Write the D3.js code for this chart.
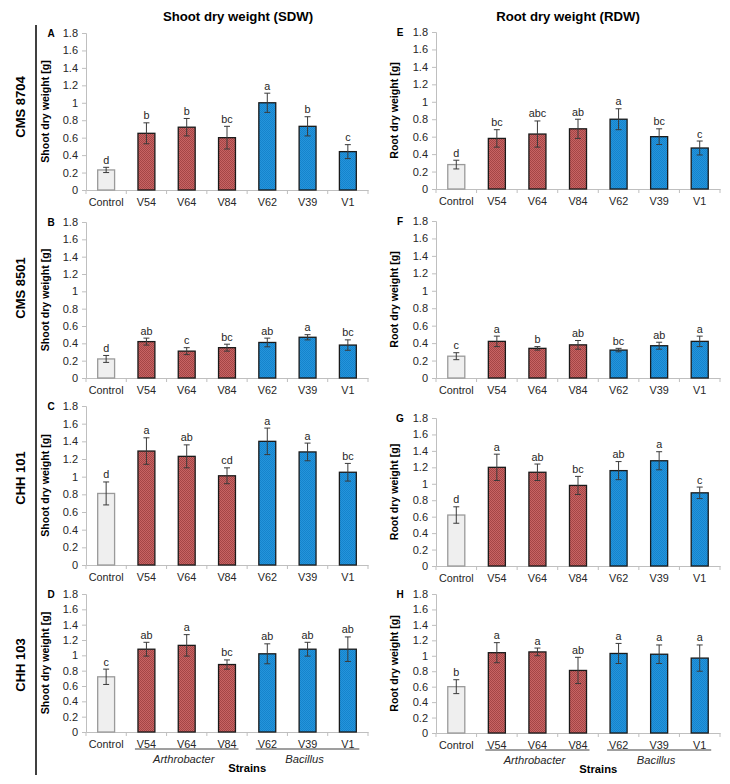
<!DOCTYPE html>
<html>
<head>
<meta charset="utf-8">
<script src="https://cdn.jsdelivr.net/npm/d3@7"></script>
<style>
  html, body { margin: 0; padding: 0; background: #fff; }
  svg { display: block; font-family: Arial, "Liberation Sans", sans-serif; }
</style>
</head>
<body>
<svg id="chart" width="730" height="784"></svg>
<script>
// ---------------- DATA ----------------
const categories = ["Control", "V54", "V64", "V84", "V62", "V39", "V1"];
const genotypes = ["CMS 8704", "CMS 8501", "CHH 101", "CHH 103"];
const panelLettersSDW = ["A", "B", "C", "D"];
const panelLettersRDW = ["E", "F", "G", "H"];
const yTickValues = [0, 0.2, 0.4, 0.6, 0.8, 1, 1.2, 1.4, 1.6, 1.8];
const yTickLabels = ["0", "0.2", "0.4", "0.6", "0.8", "1", "1.2", "1.4", "1.6", "1.8"];
const groupNames = ["Arthrobacter", "Bacillus"];
const groupMembers = [["V54", "V64", "V84"], ["V62", "V39", "V1"]];

// Shoot dry weight (SDW), rows = genotypes, cols = categories
const sdwMeans = [
  [0.23, 0.65, 0.72, 0.60, 1.00, 0.73, 0.44],
  [0.22, 0.42, 0.31, 0.35, 0.41, 0.47, 0.38],
  [0.81, 1.29, 1.23, 1.01, 1.40, 1.28, 1.05],
  [0.72, 1.08, 1.13, 0.88, 1.02, 1.08, 1.08]
];
const sdwErrors = [
  [0.03, 0.12, 0.10, 0.13, 0.11, 0.11, 0.08],
  [0.04, 0.04, 0.04, 0.04, 0.05, 0.03, 0.06],
  [0.13, 0.15, 0.13, 0.09, 0.15, 0.10, 0.10],
  [0.10, 0.09, 0.14, 0.06, 0.13, 0.09, 0.16]
];
const sdwSig = [
  ["d", "b", "b", "bc", "a", "b", "c"],
  ["d", "ab", "c", "bc", "ab", "a", "bc"],
  ["d", "a", "ab", "cd", "a", "a", "bc"],
  ["c", "ab", "a", "bc", "ab", "ab", "ab"]
];

// Root dry weight (RDW)
const rdwMeans = [
  [0.28, 0.58, 0.63, 0.69, 0.80, 0.60, 0.47],
  [0.25, 0.42, 0.34, 0.38, 0.32, 0.37, 0.42],
  [0.62, 1.20, 1.14, 0.98, 1.16, 1.28, 0.89],
  [0.60, 1.04, 1.05, 0.81, 1.03, 1.02, 0.97]
];
const rdwErrors = [
  [0.05, 0.10, 0.15, 0.11, 0.12, 0.09, 0.08],
  [0.04, 0.06, 0.02, 0.05, 0.02, 0.04, 0.06],
  [0.10, 0.16, 0.10, 0.11, 0.11, 0.11, 0.07],
  [0.09, 0.13, 0.05, 0.17, 0.13, 0.12, 0.17]
];
const rdwSig = [
  ["d", "bc", "abc", "ab", "a", "bc", "c"],
  ["c", "a", "b", "ab", "bc", "ab", "a"],
  ["d", "a", "ab", "bc", "ab", "a", "c"],
  ["b", "a", "a", "ab", "a", "a", "a"]
];

// ---------------- LAYOUT ----------------
const svg = d3.select("#chart");
const FONT = "Arial, 'Liberation Sans', sans-serif";

const defs = svg.append("defs");
function makePattern(id, base, dot) {
  const p = defs.append("pattern").attr("id", id).attr("patternUnits", "userSpaceOnUse")
    .attr("width", 2).attr("height", 2);
  p.append("rect").attr("width", 2).attr("height", 2).attr("fill", base);
  p.append("rect").attr("x", 0).attr("y", 0).attr("width", 1).attr("height", 1).attr("fill", dot);
  p.append("rect").attr("x", 1).attr("y", 1).attr("width", 1).attr("height", 1).attr("fill", dot);
}
makePattern("redPat", "#c86464", "#a44646");
makePattern("bluePat", "#2495dc", "#1683cc");

function barFill(c) {
  if (c === "Control") return "#efefef";
  if (groupMembers[0].includes(c)) return "url(#redPat)";
  return "url(#bluePat)";
}
function barStroke(c) { return c === "Control" ? "#9a9a9a" : "#1a1a1a"; }

const columns = [
  { key: "sdw", means: sdwMeans, errs: sdwErrors, sig: sdwSig, letters: panelLettersSDW,
    title: "Shoot  dry weight (SDW)", yTitle: "Shoot dry weight [g]",
    axisX: 86, axisEnd: 368, titleX: 238, yTitleX: 49, letterX: 51,
    rows: [[33, 190], [222, 378], [406, 565], [594, 732]] },
  { key: "rdw", means: rdwMeans, errs: rdwErrors, sig: rdwSig, letters: panelLettersRDW,
    title: "Root dry weight (RDW)", yTitle: "Root dry weight [g]",
    axisX: 436, axisEnd: 720, titleX: 568, yTitleX: 398, letterX: 400,
    rows: [[32, 189], [221, 378], [418, 566], [594, 733]] }
];

const rowLabelY = [107, 288, 478, 665];

// left vertical divider
svg.append("line").attr("x1", 36).attr("x2", 36).attr("y1", 25).attr("y2", 775)
  .attr("stroke", "#000").attr("stroke-width", 1.5);

genotypes.forEach((g, i) => {
  svg.append("text")
    .attr("transform", `translate(24.5,${rowLabelY[i]}) rotate(-90)`)
    .attr("text-anchor", "middle")
    .attr("font-family", FONT).attr("font-weight", "bold").attr("font-size", 13)
    .attr("fill", "#000").text(g);
});

columns.forEach(col => {
  svg.append("text").attr("x", col.titleX).attr("y", 21)
    .attr("text-anchor", "middle").attr("font-family", FONT)
    .attr("font-weight", "bold").attr("font-size", 13.2).text(col.title);

  col.rows.forEach((r, ri) => {
    const [top, bottom] = r;
    const g = svg.append("g");
    const x = d3.scaleBand().domain(categories).range([col.axisX, col.axisEnd])
      .paddingInner(0.58).paddingOuter(0.29);
    const y = d3.scaleLinear().domain([0, 1.8]).range([bottom, top]);

    // y axis
    const yAxis = d3.axisLeft(y).tickValues(yTickValues)
      .tickFormat((d, i) => yTickLabels[i]).tickSize(4).tickPadding(4);
    const ya = g.append("g").attr("transform", `translate(${col.axisX},0)`).call(yAxis);
    ya.select(".domain").attr("stroke", "#bfbfbf");
    ya.selectAll(".tick line").attr("stroke", "#bfbfbf");
    ya.selectAll(".tick text").attr("font-family", FONT).attr("font-size", 11).attr("fill", "#262626");

    // x axis (labels) + boundary ticks
    const xAxis = d3.axisBottom(x).tickSize(0).tickPadding(8).tickSizeOuter(0);
    const xa = g.append("g").attr("transform", `translate(0,${bottom})`).call(xAxis);
    xa.select(".domain").attr("stroke", "#bfbfbf");
    xa.selectAll(".tick text").attr("font-family", FONT).attr("font-size", 10.8).attr("fill", "#262626");
    const bounds = categories.map(c => x(c) - x.step() * x.paddingInner() / 2)
      .concat([col.axisEnd]);
    g.selectAll(".bt").data(bounds).join("line")
      .attr("x1", d => d).attr("x2", d => d).attr("y1", bottom).attr("y2", bottom + 4)
      .attr("stroke", "#bfbfbf");

    const means = col.means[ri], errs = col.errs[ri], sig = col.sig[ri];
    const data = categories.map((c, i) => ({ c, m: means[i], e: errs[i], s: sig[i] }));

    g.selectAll(".bar").data(data).join("rect")
      .attr("x", d => x(d.c)).attr("width", x.bandwidth())
      .attr("y", d => y(d.m)).attr("height", d => y(0) - y(d.m))
      .attr("fill", d => barFill(d.c)).attr("stroke", d => barStroke(d.c)).attr("stroke-width", 1.3);

    const cx = d => x(d.c) + x.bandwidth() / 2;
    g.selectAll(".eb").data(data).join("line")
      .attr("x1", cx).attr("x2", cx).attr("y1", d => y(d.m - d.e)).attr("y2", d => y(d.m + d.e))
      .attr("stroke", "#3a3a3a").attr("stroke-width", 1);
    ["lo", "hi"].forEach(k => {
      g.selectAll(".cap" + k).data(data).join("line")
        .attr("x1", d => cx(d) - 3).attr("x2", d => cx(d) + 3)
        .attr("y1", d => y(k === "lo" ? d.m - d.e : d.m + d.e))
        .attr("y2", d => y(k === "lo" ? d.m - d.e : d.m + d.e))
        .attr("stroke", "#3a3a3a").attr("stroke-width", 1);
    });
    g.selectAll(".sig").data(data).join("text")
      .attr("x", cx).attr("y", d => y(d.m + d.e) - 3.5)
      .attr("text-anchor", "middle").attr("font-family", FONT).attr("font-size", 10.8)
      .attr("fill", "#262626").text(d => d.s);

    // panel letter
    g.append("text").attr("x", col.letterX).attr("y", top + 3.5)
      .attr("text-anchor", "middle").attr("font-family", FONT).attr("font-weight", "bold")
      .attr("font-size", 10).text(col.letters[ri]);

    // y title
    g.append("text")
      .attr("transform", `translate(${col.yTitleX},${(top + bottom) / 2}) rotate(-90)`)
      .attr("text-anchor", "middle").attr("font-family", FONT).attr("font-weight", "bold")
      .attr("font-size", 10.6).attr("fill", "#000").text(col.yTitle);

    // bottom row: strain groups
    if (ri === col.rows.length - 1) {
      groupMembers.forEach((mem, gi) => {
        const x1 = x(mem[0]) + x.bandwidth() / 2 - 11.5;
        const x2 = x(mem[mem.length - 1]) + x.bandwidth() / 2 + 11.5;
        g.append("line").attr("x1", x1).attr("x2", x2).attr("y1", bottom + 17).attr("y2", bottom + 17)
          .attr("stroke", "#7f7f7f").attr("stroke-width", 1.5);
        g.append("text").attr("x", (x1 + x2) / 2 - 3).attr("y", bottom + 31)
          .attr("text-anchor", "middle").attr("font-family", FONT).attr("font-style", "italic")
          .attr("font-size", 11.2).attr("fill", "#262626").text(groupNames[gi]);
      });
      const mid = (x(groupMembers[0][groupMembers[0].length - 1]) + x(groupMembers[1][0]) + x.bandwidth()) / 2;
      g.append("text").attr("x", mid).attr("y", bottom + 40)
        .attr("text-anchor", "middle").attr("font-family", FONT).attr("font-weight", "bold")
        .attr("font-size", 11.2).attr("fill", "#000").text("Strains");
    }
  });
});
</script>
</body>
</html>
